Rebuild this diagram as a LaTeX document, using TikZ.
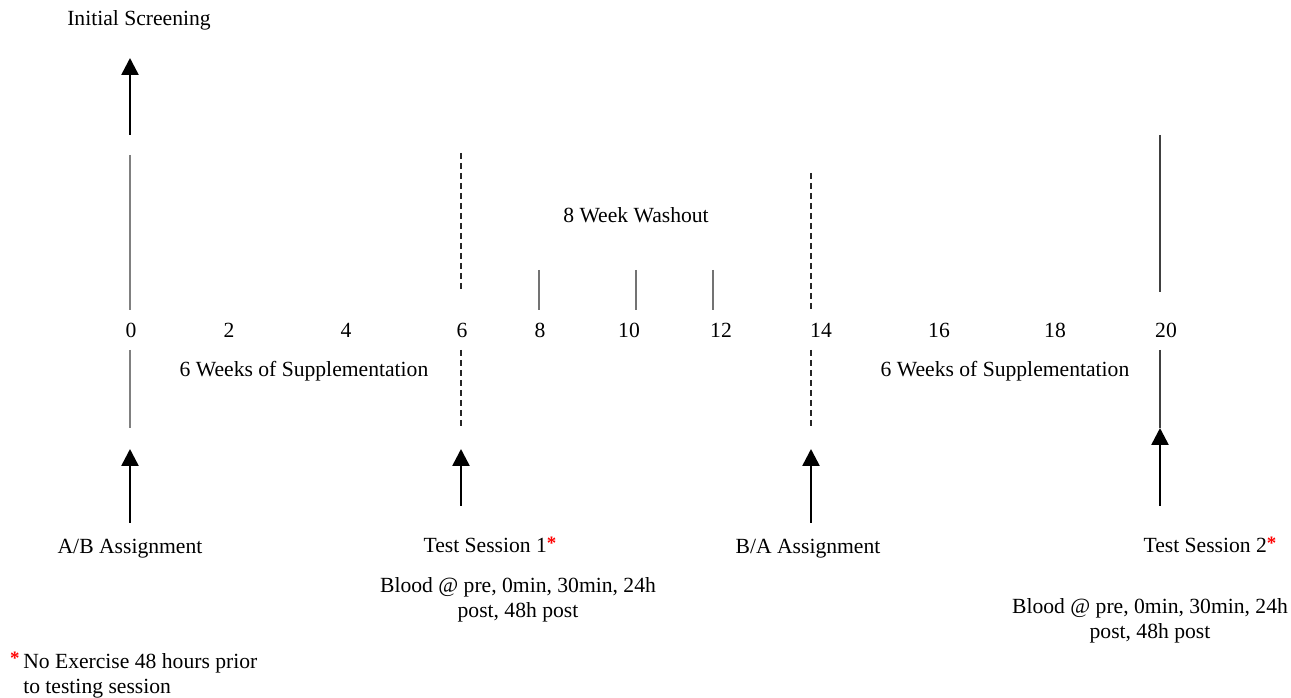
\documentclass[tikz,border=0pt]{standalone}
\usepackage{fontspec}
\setmainfont{Liberation Serif}
\usetikzlibrary{arrows.meta, positioning}

\newcommand{\redstar}{\textcolor{red}{\fontsize{19}{19}\selectfont\bfseries\raisebox{3.5bp}{*}}}

\begin{document}
\begin{tikzpicture}[
    x=1bp, y=1bp,
    node distance=20bp,
    caption/.style={
        font=\fontsize{21.7}{25}\selectfont,
        align=center,
        inner sep=2bp
    },
    weekno/.style={caption},
    solidmark/.style={draw=black!50, line width=2bp},
    thinmark/.style={draw=black!75, line width=1.5bp},
    dashmark/.style={draw=black!85, line width=2bp, dash pattern=on 6bp off 4bp},
    tickmark/.style={draw=black!55, line width=2bp},
    eventarrow/.style={-{Triangle[width=17bp,length=17bp]}, line width=2.5bp, black}
]
    \useasboundingbox (0,0) rectangle (1291,698);

    % 1. Week numbers (timeline)
    \node (w0) [weekno] at (131,368) {0};
    \node (w2) [weekno] at (229,368) {2};
    \node (w4) [weekno] at (346,368) {4};
    \node (w6) [weekno] at (462,368) {6};
    \node (w8) [weekno] at (540,368) {8};
    \node (w10) [weekno] at (629,368) {10};
    \node (w12) [weekno] at (721,368) {12};
    \node (w14) [weekno] at (821,368) {14};
    \node (w16) [weekno] at (939,368) {16};
    \node (w18) [weekno] at (1055,368) {18};
    \node (w20) [weekno] at (1166,368) {20};

    % 2. Phase captions
    \node (supp1) [caption] at (304,327) {6 Weeks of Supplementation};
    \node (wash) [caption] at (636,483) {8 Week Washout};
    \node (supp2) [caption] at (1005,327) {6 Weeks of Supplementation};

    % 3. Events
    \node (screen) [caption] at (139,678) {Initial Screening};
    \node (ab) [caption] at (130,149) {A/B Assignment};
    \node (ts1) [caption] at (490,153) {Test Session 1\redstar};
    \node (blood1) [caption, below=20bp of ts1, xshift=28bp] {
        Blood @ pre, 0min, 30min, 24h \\
        post, 48h post
    };
    \node (ba) [caption] at (808,149) {B/A Assignment};
    \node (ts2) [caption] at (1210,153) {Test Session 2\redstar};
    \node (blood2) [caption, below=41bp of ts2, xshift=-60bp] {
        Blood @ pre, 0min, 30min, 24h \\
        post, 48h post
    };

    % 4. Footnote
    \node (note) [caption, anchor=west, align=left] at (8,23) {
        \redstar\,No Exercise 48 hours prior \\
        \phantom{\redstar}\,to testing session
    };

    % Timeline markers
    \coordinate (m0a) at (130,543);  \coordinate (m0b) at (130,388);
    \coordinate (m0c) at (130,348);  \coordinate (m0d) at (130,270);
    \coordinate (m6a) at (461,545);  \coordinate (m6b) at (461,406);
    \coordinate (m6c) at (461,348);  \coordinate (m6d) at (461,270);
    \coordinate (m14a) at (811,525); \coordinate (m14b) at (811,388);
    \coordinate (m14c) at (811,348); \coordinate (m14d) at (811,270);
    \coordinate (m20a) at (1160,563); \coordinate (m20b) at (1160,406);
    \coordinate (m20c) at (1160,348); \coordinate (m20d) at (1160,270);
    \coordinate (t8a) at (539,428);  \coordinate (t8b) at (539,388);
    \coordinate (t10a) at (636,428); \coordinate (t10b) at (636,388);
    \coordinate (t12a) at (713,428); \coordinate (t12b) at (713,388);

    \draw[solidmark] (m0a) -- (m0b);
    \draw[solidmark] (m0c) -- (m0d);
    \draw[dashmark] (m6a) -- (m6b);
    \draw[dashmark] (m6c) -- (m6d);
    \draw[dashmark] (m14a) -- (m14b);
    \draw[dashmark] (m14c) -- (m14d);
    \draw[thinmark] (m20a) -- (m20b);
    \draw[thinmark] (m20c) -- (m20d);
    \draw[tickmark] (t8a) -- (t8b);
    \draw[tickmark] (t10a) -- (t10b);
    \draw[tickmark] (t12a) -- (t12b);

    % Event arrows
    \coordinate (screenfrom) at (130,563); \coordinate (screento) at (130,640);
    \coordinate (abfrom) at (130,175);     \coordinate (abto) at (130,249);
    \coordinate (ts1from) at (461,192);    \coordinate (ts1to) at (461,249);
    \coordinate (bafrom) at (811,175);     \coordinate (bato) at (811,249);
    \coordinate (ts2from) at (1160,192);   \coordinate (ts2to) at (1160,270);

    \draw[eventarrow] (screenfrom) -- (screento);
    \draw[eventarrow] (abfrom) -- (abto);
    \draw[eventarrow] (ts1from) -- (ts1to);
    \draw[eventarrow] (bafrom) -- (bato);
    \draw[eventarrow] (ts2from) -- (ts2to);

\end{tikzpicture}
\end{document}
